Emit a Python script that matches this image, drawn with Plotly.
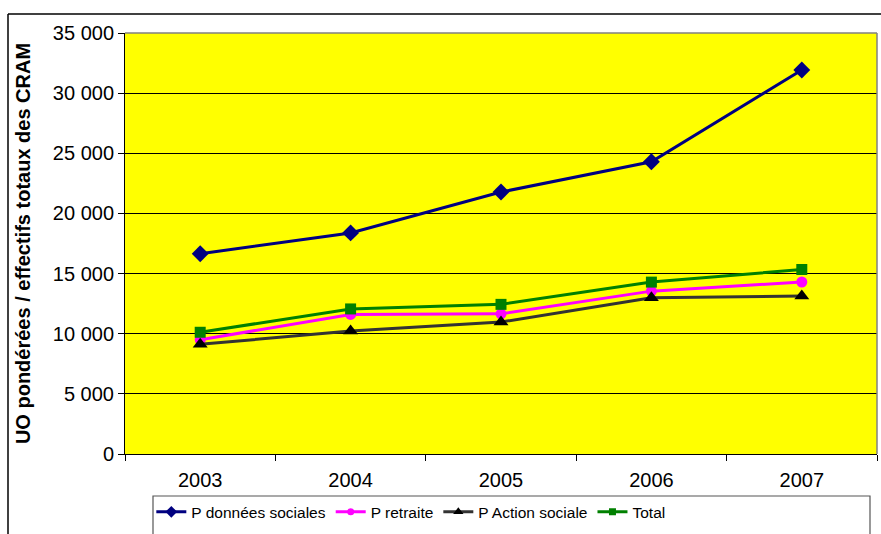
import plotly.graph_objects as go

years = ["2003", "2004", "2005", "2006", "2007"]
donnees_sociales = [16650, 18380, 21780, 24300, 31930]
retraite = [9500, 11600, 11650, 13540, 14300]
action_sociale = [9120, 10220, 10970, 12990, 13130]
total = [10120, 12060, 12440, 14290, 15340]

series = [
    ("P données sociales", donnees_sociales, "#000080", "#000080", "diamond", 13),
    ("P retraite", retraite, "#FF00FF", "#FF00FF", "circle", 11),
    ("P Action sociale", action_sociale, "#333333", "#000000", "triangle-up", 13),
    ("Total", total, "#008000", "#008000", "square", 11),
]

fig = go.Figure()
for name, vals, lc, mc, sym, sz in series:
    fig.add_trace(go.Scatter(
        x=years, y=vals, name=name, mode="lines+markers",
        line=dict(color=lc, width=3),
        marker=dict(color=mc, symbol=sym, size=sz, line=dict(width=0)),
        legendgroup=name, showlegend=False,
    ))
# legend keys with smaller markers
for name, vals, lc, mc, sym, sz in series:
    fig.add_trace(go.Scatter(
        x=[years[0]], y=[None], name=name, mode="lines+markers",
        line=dict(color=lc, width=3),
        marker=dict(color=mc, symbol=sym, size=sz - 4, line=dict(width=0)),
        legendgroup=name, showlegend=True,
    ))

font_family = "Arial, Liberation Sans, sans-serif"

fig.update_layout(
    width=881, height=534,
    margin=dict(l=125, r=4, t=33, b=80),
    paper_bgcolor="white",
    plot_bgcolor="#FFFF00",
    separators=", ",
    font=dict(family=font_family, color="black", size=20),
    showlegend=True,
    legend=dict(
        orientation="h", x=0.035, y=-0.098, xanchor="left", yanchor="top",
        bgcolor="rgba(0,0,0,0)", borderwidth=0,
        font=dict(size=15.5, family=font_family),
        itemwidth=30, tracegroupgap=0,
    ),
    xaxis=dict(
        type="category", range=[-0.5, 4.5], automargin=False,
        tickson="boundaries", ticks="outside", ticklen=6, tickcolor="black",
        showline=True, linecolor="black", linewidth=1, mirror=False,
        showgrid=False, tickfont=dict(size=20), ticklabelstandoff=8,
    ),
    yaxis=dict(
        range=[0, 35000], dtick=5000, tickformat=",d", automargin=False,
        ticks="outside", ticklen=6, tickcolor="black",
        showline=True, linecolor="black", linewidth=1,
        showgrid=True, gridcolor="black", gridwidth=1,
        zeroline=False, tickfont=dict(size=20),
        title=dict(text="<b>UO pondérées / effectifs totaux des CRAM</b>",
                   font=dict(size=20), standoff=16),
    ),
)

# plot area frame (top and right sides)
fig.add_shape(type="line", xref="paper", yref="paper", x0=0, x1=1, y0=1, y1=1,
              line=dict(color="#808080", width=1.5))
fig.add_shape(type="line", xref="paper", yref="paper", x0=1, x1=1, y0=0, y1=1,
              line=dict(color="#808080", width=1.5))

# outer chart frame and legend frame, placed in pixel terms
px_w, px_h = 752, 421
def px(xp):
    return (xp - 125) / px_w
def py(yp):
    return (454 - yp) / px_h

fig.add_shape(type="line", xref="paper", yref="paper", x0=px(8), x1=px(895),
              y0=py(14), y1=py(14), line=dict(color="black", width=1.5))
fig.add_shape(type="line", xref="paper", yref="paper", x0=px(8), x1=px(8),
              y0=py(14), y1=py(560), line=dict(color="black", width=1.5))
fig.add_shape(type="rect", xref="paper", yref="paper", x0=px(153), x1=px(870),
              y0=py(496), y1=py(560), line=dict(color="#555555", width=1.2))

fig.write_html("out.html")
